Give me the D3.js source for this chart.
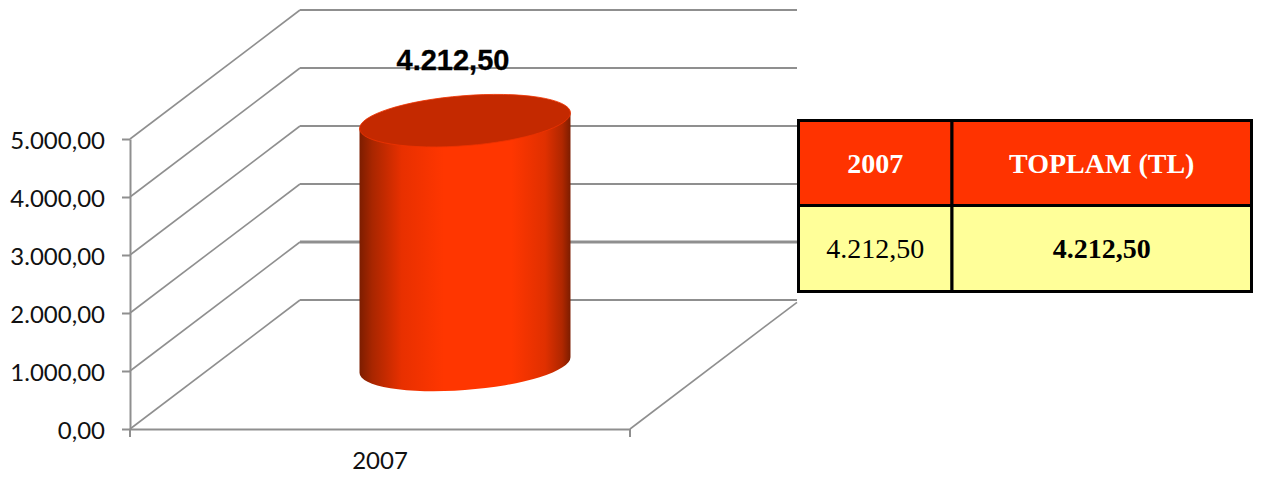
<!DOCTYPE html>
<html>
<head>
<meta charset="utf-8">
<script src="https://d3js.org/d3.v7.min.js"></script>
<style>
	html, body { margin: 0; padding: 0; background: #fff; overflow: hidden; }
	svg { display: block; }
</style>
</head>
<body>
<svg id="chart" width="1267" height="477"></svg>
<script>
var categories = ["2007"]
var values = [4212.5]
var yTicks = [0, 1000, 2000, 3000, 4000, 5000]
var tableHeader = ["2007", "TOPLAM (TL)"]
var tableRow = ["4.212,50", "4.212,50"]

var svg = d3.select("#chart")
var tr = d3.formatLocale({ decimal: ",", thousands: ".", grouping: [3], currency: ["", " TL"] })
var fmt = tr.format(",.2f")

var gridColor = "#8f8f8f"
var gridWidth = 2
var depthX = 170, depthY = -129
var backRight = 797

var y = d3.scaleLinear().domain([0, 5000]).range([429, 139])
var x = d3.scaleBand().domain(categories).range([130, 630])

// gradient across the cylinder body
var grad = svg.append("defs").append("linearGradient").attr("id", "body")
	.attr("x1", 0).attr("x2", 1).attr("y1", 0).attr("y2", 0)
;[[0, "#7c1d00"], [0.06, "#a82600"], [0.2, "#e83000"], [0.4, "#ff3600"], [0.72, "#ff3600"], [0.88, "#e03000"], [0.96, "#b02700"], [1, "#7c1d00"]]
	.forEach(s => grad.append("stop").attr("offset", s[0]).attr("stop-color", s[1]))

// walls: slanted lines from the front axis to the back wall, then along it
var grid = svg.append("g").attr("fill", "none").attr("stroke", gridColor)
yTicks.forEach(t => {
	grid.append("path")
		.attr("stroke-width", gridWidth - 0.4)
		.attr("d", d3.line()([[x.range()[0], y(t)], [x.range()[0] + depthX, y(t) + depthY]]))
	grid.append("path")
		.attr("stroke-width", t == 1000 ? gridWidth + 1 : gridWidth)
		.attr("d", d3.line()([[x.range()[0] + depthX, y(t) + depthY], [backRight, y(t) + depthY]]))
})
// floor right edge
grid.append("path").attr("stroke-width", gridWidth - 0.4)
	.attr("d", d3.line()([[x.range()[1], y(0)], [backRight, y(0) + depthY * (backRight - x.range()[1]) / depthX]]))

// axes
var yAxis = svg.append("g").attr("transform", "translate(" + x.range()[0] + ",0)")
	.call(d3.axisLeft(y).tickValues(yTicks).tickFormat(fmt).tickSize(8).tickPadding(17).tickSizeOuter(0))
var xAxis = svg.append("g").attr("transform", "translate(0," + y(0) + ")")
	.call(d3.axisBottom(x).tickSize(0).tickPadding(23))
;[yAxis, xAxis].forEach(a => {
	a.selectAll("path,line").attr("stroke", gridColor).attr("stroke-width", gridWidth)
	a.selectAll("text").attr("font-family", "Lato, sans-serif").attr("font-size", 24).attr("fill", "#111")
})
yAxis.selectAll("text").attr("dy", "0.38em")
x.range().forEach(px => {
	xAxis.append("line").attr("x1", px).attr("x2", px).attr("y1", 0).attr("y2", 8)
		.attr("stroke", gridColor).attr("stroke-width", gridWidth)
})

// cylinder: both ends are the same tilted ellipse, sides meet them at the vertical tangents
var rx = 105.8, ry = 25, tilt = -4.5
var rad = tilt * Math.PI / 180
var halfW = Math.sqrt(rx * rx * Math.cos(rad) * Math.cos(rad) + ry * ry * Math.sin(rad) * Math.sin(rad))
var tipY = (rx * rx - ry * ry) * Math.sin(-rad) * Math.cos(rad) / halfW
var cx = x(categories[0]) + x.bandwidth() / 2 + depthX / 2
var zeroY = y(0) + depthY / 2 + 0.5
var topY = zeroY - (y(0) - y(values[0]))

svg.append("path")
	.attr("fill", "url(#body)")
	.attr("d", "M" + (cx - halfW) + "," + (topY + tipY) +
		"L" + (cx - halfW) + "," + (zeroY + tipY) +
		"A" + rx + "," + ry + " " + tilt + " 0 0 " + (cx + halfW) + "," + (zeroY - tipY) +
		"L" + (cx + halfW) + "," + (topY - tipY) + "Z")
svg.append("ellipse")
	.attr("cx", cx).attr("cy", topY).attr("rx", rx).attr("ry", ry)
	.attr("transform", "rotate(" + tilt + " " + cx + " " + topY + ")")
	.attr("fill", "#c42900").attr("stroke", "#ee3300").attr("stroke-width", 0.8)

// data label
svg.append("text")
	.attr("x", cx - 12).attr("y", 69.5)
	.attr("text-anchor", "middle")
	.attr("font-family", "'Liberation Sans', Arial, sans-serif")
	.attr("font-weight", "bold").attr("font-size", 29).attr("fill", "#000")
	.attr("stroke", "#000").attr("stroke-width", 0.3)
	.text(fmt(values[0]))

// table next to the chart
var colX = d3.scaleOrdinal().domain([0, 1, 2]).range([798.5, 952, 1251.5])
var rowY = d3.scaleOrdinal().domain([0, 1, 2]).range([120.5, 205.5, 291.5])
var table = svg.append("g")
;[tableHeader, tableRow].forEach((row, r) => {
	row.forEach((cell, c) => {
		table.append("rect")
			.attr("x", colX(c)).attr("y", rowY(r))
			.attr("width", colX(c + 1) - colX(c)).attr("height", rowY(r + 1) - rowY(r))
			.attr("fill", r == 0 ? "#ff3300" : "#ffff99")
			.attr("stroke", "#000").attr("stroke-width", 3)
		table.append("text")
			.attr("x", (colX(c) + colX(c + 1)) / 2)
			.attr("y", (rowY(r) + rowY(r + 1)) / 2 + 9.5)
			.attr("text-anchor", "middle")
			.attr("font-family", "'Liberation Serif', 'Times New Roman', serif")
			.attr("font-size", 28)
			.attr("font-weight", r == 0 || c == 1 ? "bold" : "normal")
			.attr("fill", r == 0 ? "#fff" : "#000")
			.text(cell)
	})
})
</script>
</body>
</html>
